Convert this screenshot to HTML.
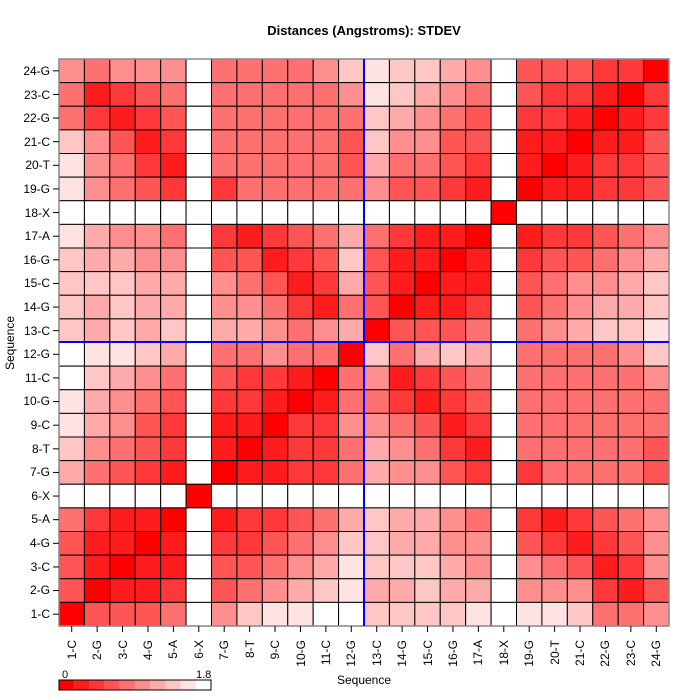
<!DOCTYPE html>
<html><head><meta charset="utf-8"><style>body{margin:0;background:#fff}svg{display:block;font-family:"Liberation Sans",sans-serif}</style></head>
<body>
<svg id="s" width="700" height="700" viewBox="0 0 700 700" xmlns="http://www.w3.org/2000/svg">
<text x="364" y="35" font-size="13" font-weight="bold" text-anchor="middle">Distances (Angstroms):  STDEV</text>
<g id="cells"></g>
<rect x="59" y="59" width="610" height="567" fill="none" stroke="#888" stroke-width="1.5"/>
<line x1="364" y1="59" x2="364" y2="626" stroke="#0000ff" stroke-width="2"/>
<line x1="59" y1="342" x2="669" y2="342" stroke="#0000ff" stroke-width="2"/>
<g font-size="12" text-anchor="end">
<text x="50" y="75">24-G</text><text x="50" y="99">23-C</text><text x="50" y="122">22-G</text><text x="50" y="146">21-C</text><text x="50" y="169">20-T</text><text x="50" y="193">19-G</text><text x="50" y="217">18-X</text><text x="50" y="240">17-A</text><text x="50" y="264">16-G</text><text x="50" y="287">15-C</text><text x="50" y="311">14-G</text><text x="50" y="335">13-C</text><text x="50" y="358">12-G</text><text x="50" y="382">11-C</text><text x="50" y="405">10-G</text><text x="50" y="429">9-C</text><text x="50" y="453">8-T</text><text x="50" y="476">7-G</text><text x="50" y="500">6-X</text><text x="50" y="523">5-A</text><text x="50" y="547">4-G</text><text x="50" y="571">3-C</text><text x="50" y="594">2-G</text><text x="50" y="618">1-C</text>
</g>
<g id="xl" font-size="12" text-anchor="end">
<text transform="translate(76,640) rotate(-90)">1-C</text><text transform="translate(101,640) rotate(-90)">2-G</text><text transform="translate(127,640) rotate(-90)">3-C</text><text transform="translate(152,640) rotate(-90)">4-G</text><text transform="translate(177,640) rotate(-90)">5-A</text><text transform="translate(203,640) rotate(-90)">6-X</text><text transform="translate(228,640) rotate(-90)">7-G</text><text transform="translate(254,640) rotate(-90)">8-T</text><text transform="translate(279,640) rotate(-90)">9-C</text><text transform="translate(305,640) rotate(-90)">10-G</text><text transform="translate(330,640) rotate(-90)">11-C</text><text transform="translate(355,640) rotate(-90)">12-G</text><text transform="translate(381,640) rotate(-90)">13-C</text><text transform="translate(406,640) rotate(-90)">14-G</text><text transform="translate(432,640) rotate(-90)">15-C</text><text transform="translate(457,640) rotate(-90)">16-G</text><text transform="translate(482,640) rotate(-90)">17-A</text><text transform="translate(508,640) rotate(-90)">18-X</text><text transform="translate(533,640) rotate(-90)">19-G</text><text transform="translate(559,640) rotate(-90)">20-T</text><text transform="translate(584,640) rotate(-90)">21-C</text><text transform="translate(609,640) rotate(-90)">22-G</text><text transform="translate(635,640) rotate(-90)">23-C</text><text transform="translate(660,640) rotate(-90)">24-G</text>
</g>
<g id="ticks" stroke="#000"></g>
<text x="364" y="684" font-size="12" text-anchor="middle">Sequence</text>
<text transform="translate(14,343) rotate(-90)" font-size="12" text-anchor="middle">Sequence</text>
<text x="62" y="678" font-size="11">0</text>
<text x="196" y="678" font-size="11">1.8</text>
<g id="leg"></g>
</svg>
<script>
var M=[
"5,4,5,5,5,9,4,4,4,4,5,7,8,7,7,6,5,9,3,3,3,2,2,0",
"4,1,2,3,4,9,4,4,4,4,4,5,8,7,6,5,4,9,3,2,2,1,0,2",
"4,2,1,2,3,9,4,4,4,4,4,4,7,6,5,4,3,9,2,2,1,0,1,2",
"7,5,3,1,2,9,4,4,4,4,4,3,7,5,5,3,3,9,1,1,0,1,1,3",
"8,5,4,2,1,9,4,4,4,4,4,3,6,4,4,3,2,9,1,0,1,2,2,3",
"8,5,4,3,2,9,2,4,4,4,4,4,5,3,3,2,1,9,0,1,1,2,2,3",
"9,9,9,9,9,9,9,9,9,9,9,9,9,9,9,9,9,0,9,9,9,9,9,9",
"8,6,5,5,4,9,2,1,2,3,4,6,4,2,1,1,0,9,1,2,2,3,4,5",
"7,6,6,5,5,9,3,3,1,2,3,7,3,1,1,0,1,9,2,3,3,4,5,6",
"7,7,7,6,6,9,5,4,3,1,2,6,3,1,0,1,1,9,3,4,5,5,6,7",
"7,6,7,6,6,9,5,5,4,2,1,4,3,0,1,1,2,9,3,4,5,6,6,7",
"7,6,7,6,7,9,6,6,5,4,5,6,0,3,3,3,4,9,4,5,6,7,7,8",
"9,8,8,7,6,9,4,4,5,4,4,0,7,4,6,7,6,9,4,4,4,4,5,7",
"9,7,6,5,4,9,3,2,2,1,0,4,5,1,2,3,4,9,4,4,4,4,4,5",
"8,6,5,4,3,9,2,2,1,0,1,4,4,2,1,2,3,9,4,4,4,4,4,4",
"8,6,5,3,2,9,1,1,0,2,2,5,5,4,3,1,2,9,4,4,4,4,4,4",
"7,5,4,3,2,9,1,0,1,2,2,4,6,5,4,2,1,9,4,4,4,4,4,3",
"6,4,3,2,1,9,0,1,1,2,2,4,6,5,5,3,2,9,2,4,4,4,4,3",
"9,9,9,9,9,0,9,9,9,9,9,9,9,9,9,9,9,9,9,9,9,9,9,9",
"4,2,1,1,0,9,1,2,2,3,4,6,7,6,6,5,4,9,2,1,2,3,4,5",
"3,1,1,0,1,9,2,2,3,4,5,7,7,6,6,5,5,9,3,2,1,2,3,5",
"3,1,0,1,1,9,3,3,4,5,6,8,7,7,7,6,5,9,5,4,3,1,2,5",
"3,0,1,1,2,9,3,4,5,6,7,8,6,6,7,6,6,9,5,5,5,2,1,3",
"0,3,3,3,4,9,5,7,8,8,9,9,7,7,7,7,8,9,8,8,7,4,4,5"];
function col(k){var v=Math.round(k*255/9);return "rgb(255,"+v+","+v+")";}
var ns="http://www.w3.org/2000/svg",g=document.getElementById("cells"),cw=610/24,ch=567/24,h="";
for(var r=0;r<24;r++){var a=M[r].split(",");for(var c=0;c<24;c++){h+='<rect x="'+(59+c*cw).toFixed(2)+'" y="'+(59+r*ch).toFixed(2)+'" width="'+cw.toFixed(2)+'" height="'+ch.toFixed(2)+'" fill="'+col(+a[c])+'" stroke="#000" stroke-width="1"/>';}}
g.innerHTML=h;
var t="";for(var i=0;i<24;i++){var x=59+(i+.5)*cw,y=59+(i+.5)*ch;t+='<line x1="'+x+'" y1="626" x2="'+x+'" y2="632"/><line x1="53" y1="'+y+'" x2="59" y2="'+y+'"/>';}
document.getElementById("ticks").innerHTML=t;
var l="";for(var k=0;k<10;k++){l+='<rect x="'+(59+k*15.2)+'" y="680" width="15.2" height="10" fill="'+col(k)+'"/>';}
l+='<rect x="59" y="680" width="152" height="10" fill="none" stroke="#000"/>';
document.getElementById("leg").innerHTML=l;
</script>
</body></html>
